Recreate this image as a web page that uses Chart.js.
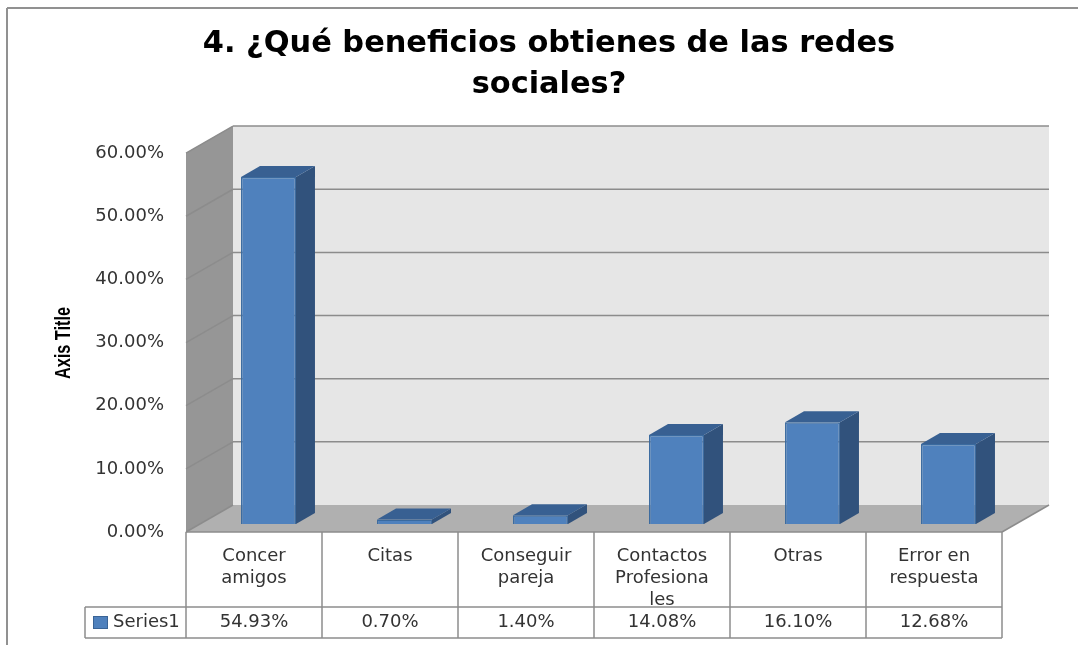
<!DOCTYPE html>
<html>
<head>
<meta charset="utf-8">
<title>Beneficios de las redes sociales</title>
<script src="https://cdn.jsdelivr.net/npm/chart.js@4"></script>
<style>
  html, body { margin: 0; padding: 0; background: #fff; }
  #wrap { position: relative; width: 1078px; height: 645px; }
</style>
</head>
<body>
<div id="wrap"><canvas id="myChart" width="1078" height="645"></canvas></div>
<script>
const categories = [
  ["Concer", "amigos"],
  ["Citas"],
  ["Conseguir", "pareja"],
  ["Contactos", "Profesiona", "les"],
  ["Otras"],
  ["Error en", "respuesta"],
];
const series_name = "Series1";
const series_values = [54.93, 0.7, 1.4, 14.08, 16.1, 12.68];
const y_ticks = [0, 10, 20, 30, 40, 50, 60];

const pct = (v) => v.toFixed(2) + "%";
const font_txt = '"DejaVu Sans", sans-serif';
const line_gray = "#8c8c8c";

// depth of the fake 3d box and of the bars inside it
const depth = { x: 47, y: -27 };
const bar_shift = { x: 14.5, y: -8 };
const bar_depth = { x: 19, y: -11 };

function poly(ctx, pts, fill) {
  ctx.beginPath();
  pts.forEach((p, i) => (i ? ctx.lineTo(p[0], p[1]) : ctx.moveTo(p[0], p[1])));
  ctx.closePath();
  ctx.fillStyle = fill;
  ctx.fill();
}

function hline(ctx, x1, y1, x2, y2) {
  ctx.beginPath();
  ctx.moveTo(x1, y1);
  ctx.lineTo(x2, y2);
  ctx.stroke();
}

const box3d = {
  id: "box3d",
  beforeDraw(chart) {
    const { ctx, chartArea: a, scales } = chart;
    const dx = depth.x, dy = depth.y;
    ctx.save();
    // outer frame
    ctx.strokeStyle = "#919191";
    ctx.lineWidth = 2;
    hline(ctx, 7, 8, 1078, 8);
    hline(ctx, 7, 8, 7, 645);
    // walls and floor
    poly(ctx, [[a.left + dx, a.top + dy], [a.right + dx, a.top + dy], [a.right + dx, a.bottom + dy], [a.left + dx, a.bottom + dy]], "#e6e6e6");
    poly(ctx, [[a.left, a.top], [a.left + dx, a.top + dy], [a.left + dx, a.bottom + dy], [a.left, a.bottom]], "#969696");
    poly(ctx, [[a.left, a.bottom], [a.right, a.bottom], [a.right + dx, a.bottom + dy], [a.left + dx, a.bottom + dy]], "#b0b0b0");
    // gridlines
    ctx.strokeStyle = line_gray;
    ctx.lineWidth = 1.5;
    y_ticks.forEach((v) => {
      const y = scales.y.getPixelForValue(v);
      if (v > 0) hline(ctx, a.left + dx, y + dy, a.right + dx, y + dy);
      hline(ctx, a.left, y, a.left + dx, y + dy);
    });
    hline(ctx, a.right, a.bottom, a.right + dx, a.bottom + dy);
    ctx.restore();
  },
  beforeDatasetDraw(chart) {
    chart.ctx.save();
    chart.ctx.translate(bar_shift.x, bar_shift.y);
  },
  afterDatasetDraw(chart, args) {
    const ctx = chart.ctx;
    const dx = bar_depth.x, dy = bar_depth.y;
    args.meta.data.forEach((bar) => {
      const l = bar.x - bar.width / 2, r = bar.x + bar.width / 2;
      poly(ctx, [[r, bar.y], [r + dx, bar.y + dy], [r + dx, bar.base + dy], [r, bar.base]], "#31527c");
      poly(ctx, [[l, bar.y], [r, bar.y], [r + dx, bar.y + dy], [l + dx, bar.y + dy]], "#386092");
    });
    ctx.restore();
  },
  afterDraw(chart) {
    const { ctx, chartArea: a, scales } = chart;
    const row_top = 607, row_bottom = 638, row_left = 85;
    ctx.save();
    ctx.strokeStyle = line_gray;
    ctx.lineWidth = 1.5;
    hline(ctx, a.left, a.bottom, a.right, a.bottom);
    hline(ctx, row_left, row_top, a.right, row_top);
    hline(ctx, row_left, row_bottom, a.right, row_bottom);
    hline(ctx, row_left, row_top, row_left, row_bottom);
    const step = (a.right - a.left) / categories.length;
    for (let i = 0; i <= categories.length; i++) {
      const x = a.left + step * i;
      hline(ctx, x, a.bottom, x, row_bottom);
    }
    // data table row
    ctx.fillStyle = "#333333";
    ctx.font = "18px " + font_txt;
    ctx.textBaseline = "middle";
    ctx.textAlign = "center";
    series_values.forEach((v, i) => {
      ctx.fillText(pct(v), scales.x.getPixelForValue(i), 622);
    });
    ctx.textAlign = "left";
    ctx.fillText(series_name, 113, 622);
    ctx.fillStyle = "#4f81bd";
    ctx.strokeStyle = "#3a6496";
    ctx.lineWidth = 1;
    ctx.fillRect(93.5, 616.5, 14, 12);
    ctx.strokeRect(93.5, 616.5, 14, 12);
    // squeezed axis title, the narrow font is not installed
    ctx.translate(64, 343);
    ctx.rotate(-Math.PI / 2);
    ctx.scale(0.74, 1);
    ctx.fillStyle = "#000000";
    ctx.font = 'bold 22px "Liberation Sans", sans-serif';
    ctx.textAlign = "center";
    ctx.fillText("Axis Title", 0, 0);
    ctx.restore();
  },
};

const data = {
  labels: categories,
  datasets: [
    {
      label: series_name,
      data: series_values,
      backgroundColor: "#4f81bd",
      borderColor: "#3a6a9f",
      borderWidth: 1.5,
      barPercentage: 1,
      categoryPercentage: 0.404,
      clip: false,
    },
  ],
};

const config = {
  type: "bar",
  data: data,
  plugins: [box3d],
  options: {
    responsive: false,
    animation: false,
    layout: { padding: { left: 20, right: 0, top: 10, bottom: 0 } },
    plugins: {
      legend: { display: false },
      tooltip: { enabled: false },
      title: {
        display: true,
        text: ["4. ¿Qué beneficios obtienes de las redes", "sociales?"],
        color: "#000000",
        font: { family: font_txt, size: 30.4, weight: "bold", lineHeight: 1.35 },
        padding: { top: 14, bottom: 47 },
      },
    },
    scales: {
      x: {
        grid: { display: false },
        border: { display: false },
        ticks: {
          color: "#333333",
          font: { family: font_txt, size: 18, lineHeight: 1.22 },
          padding: 5,
          maxRotation: 0,
          autoSkip: false,
        },
        afterFit(axis) {
          axis.height = 113;
        },
      },
      y: {
        min: 0,
        max: 60,
        grid: { display: false },
        border: { display: false },
        ticks: {
          color: "#333333",
          font: { family: font_txt, size: 18 },
          stepSize: 10,
          padding: 14,
          callback: (v) => pct(v),
        },
        afterFit(axis) {
          axis.width = 166;
        },
      },
      // empty axis that only keeps the plot clear of the right edge
      pad: {
        position: "right",
        grid: { display: false },
        border: { display: false },
        ticks: { display: false },
        afterFit(axis) {
          axis.width = 76;
        },
      },
    },
  },
};

const myChart = new Chart(document.getElementById("myChart"), config);
</script>
</body>
</html>
